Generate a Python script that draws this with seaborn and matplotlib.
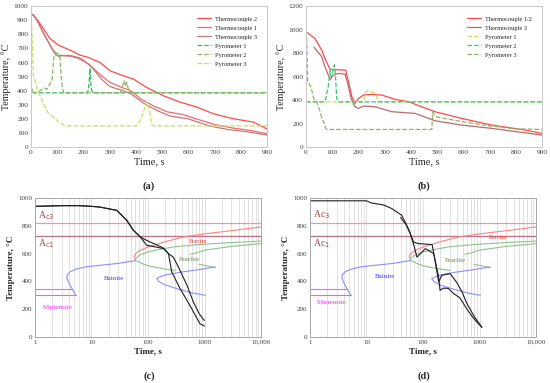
import numpy as np
import pandas as pd
import seaborn as sns
import matplotlib.pyplot as plt
from matplotlib.ticker import LogLocator, NullFormatter

# ---------------- panel (a): quench test 1 ----------------
a_tc2_t = [0, 10, 25, 47, 72, 104, 149, 187, 219, 263, 302, 352, 391, 441, 505, 569, 632, 696, 772, 849, 900]
a_tc2_T = [946, 935, 900, 842, 771, 723, 688, 652, 636, 600, 541, 506, 482, 423, 364, 319, 284, 236, 201, 177, 128]
a_tc1_t = [0, 10, 25, 50, 80, 100, 150, 180, 220, 260, 300, 350, 380, 420, 470, 520, 580, 630, 700, 770, 830, 900]
a_tc1_T = [946, 935, 895, 800, 700, 650, 645, 630, 590, 520, 460, 420, 400, 340, 290, 250, 230, 200, 160, 135, 120, 95]
a_tc3_t = [0, 10, 25, 50, 85, 100, 150, 190, 230, 270, 300, 350, 380, 430, 480, 530, 600, 680, 750, 820, 900]
a_tc3_T = [946, 935, 890, 800, 680, 650, 650, 630, 570, 480, 430, 400, 380, 310, 260, 220, 200, 150, 125, 110, 85]
a_p1_t = [0, 4, 8, 215, 220, 225, 229, 235, 900]
a_p1_T = [385, 410, 385, 385, 420, 558, 420, 385, 385]
a_p2_t = [0, 5, 10, 30, 50, 60, 70, 80, 85, 90, 95, 100, 105, 110, 115, 120, 125, 340, 350, 355, 360, 365, 370, 380, 900]
a_p2_T = [380, 410, 385, 395, 420, 410, 440, 470, 600, 680, 650, 670, 640, 660, 500, 420, 385, 385, 440, 470, 430, 460, 420, 385, 385]
a_p3_t = [0, 4, 9, 22, 41, 66, 85, 104, 120, 136, 403, 420, 441, 452, 460, 470, 900]
a_p3_T = [950, 800, 511, 428, 333, 239, 215, 180, 160, 150, 150, 200, 322, 260, 160, 150, 150]

# ---------------- panel (b): quench test 2 ----------------
b_tc12_t = [0, 34, 60, 72, 92, 151, 162, 175, 187, 200, 219, 251, 289, 340, 391, 441, 492, 594, 709, 836, 900]
b_tc12_T = [982, 925, 825, 754, 661, 655, 556, 428, 372, 414, 443, 448, 443, 406, 386, 343, 301, 244, 187, 145, 116]
b_tc3_t = [30, 60, 72, 85, 92, 104, 123, 149, 159, 172, 187, 200, 219, 263, 327, 416, 492, 594, 709, 900]
b_tc3_T = [851, 769, 684, 613, 576, 613, 627, 621, 542, 414, 343, 329, 349, 343, 301, 287, 224, 187, 159, 102]
b_p1_t = [0, 220, 228, 235, 260, 268, 275, 900]
b_p1_T = [385, 385, 470, 480, 460, 440, 385, 385]
b_p2_t = [0, 70, 75, 85, 92, 96, 100, 105, 108, 112, 117, 122, 900]
b_p2_T = [385, 385, 410, 520, 650, 600, 620, 680, 700, 620, 420, 385, 385]
b_p3_t = [0, 3, 6, 15, 20, 30, 40, 50, 60, 70, 75, 80, 480, 483, 490, 500, 600, 700, 800, 900]
b_p3_T = [990, 900, 550, 530, 500, 410, 390, 330, 250, 200, 160, 150, 150, 300, 270, 255, 215, 180, 155, 150]

# ---------------- CCT diagram (c), (d) ----------------
ac3_temp = 820
ac1_temp = 730
ms_t = [1, 4.5]
ms_T = [345, 345]
mf_t = [1, 5.3]
mf_T = [300, 300]
ferrite_t = [60, 57, 60, 70, 100, 200, 425, 1000, 3000, 10000]
ferrite_T = [555, 578, 598, 620, 648, 685, 720, 742, 765, 792]
pearlite_up_t = [60, 70, 100, 150, 300, 1000, 3000, 10000]
pearlite_up_T = [560, 588, 612, 628, 650, 668, 680, 690]
pearlite_fin_t = [550, 735, 1000, 3000, 10000]
pearlite_fin_T = [595, 607, 625, 652, 672]
pearlite_low_t = [60, 80, 100, 150, 215, 300]
pearlite_low_T = [552, 527, 513, 498, 487, 480]
pearlite_end_t = [800, 1550]
pearlite_end_T = [523, 500]
bainite1_t = [5.3, 4.8, 4.1, 3.7, 3.7, 4.2, 5.5, 8, 14, 30, 60]
bainite1_T = [297, 330, 380, 420, 445, 470, 490, 505, 516, 530, 550]
bainite2_t = [1550, 800, 400, 215, 160, 143, 155, 200, 323, 600, 1030]
bainite2_T = [504, 485, 468, 449, 432, 420, 400, 375, 348, 318, 300]

c_cool1_t = [1, 3, 6, 10, 14, 28, 42, 55, 73, 95, 148, 188, 230, 280, 345, 490, 635, 800, 960, 1000]
c_cool1_T = [940, 945, 945, 940, 935, 911, 840, 768, 720, 695, 660, 640, 600, 575, 504, 372, 252, 170, 125, 120]
c_cool2_t = [1, 3, 6, 10, 14, 28, 42, 55, 73, 95, 148, 188, 230, 263, 370, 550, 830, 960, 1000]
c_cool2_T = [940, 945, 945, 940, 935, 911, 840, 768, 720, 660, 645, 636, 600, 468, 348, 228, 96, 82, 80]

d_cool1_t = [1, 10, 12, 20, 28, 42, 55, 68, 83, 145, 165, 189, 215, 302, 400, 490, 600, 800, 1100]
d_cool1_T = [980, 980, 965, 950, 924, 876, 780, 683, 672, 665, 540, 396, 444, 456, 390, 324, 240, 150, 70]
d_cool2_t = [40, 50, 60, 70, 78, 90, 110, 155, 170, 189, 200, 230, 280, 350, 450, 600, 800, 1100]
d_cool2_T = [860, 810, 740, 650, 575, 600, 636, 600, 520, 432, 336, 352, 350, 312, 282, 200, 130, 70]

sns.set_style("white")
plt.rcParams['font.family'] = ['Liberation Serif', 'DejaVu Serif']


def line(ax, x, y, color, lw=0.9, ls='-', label=None):
    sns.lineplot(x=x, y=y, ax=ax, color=color, lw=lw, linestyle=ls,
                 estimator=None, sort=False, label=label, legend=False)


def frame(ax, col, size):
    for s in ax.spines.values():
        s.set_color(col)
        s.set_linewidth(0.7)
    ax.tick_params(length=0, labelsize=size, pad=2, colors='#404040')


fig = plt.figure(figsize=(5.5, 3.83), dpi=100)
ax_a = fig.add_axes([0.0564, 0.616, 0.429, 0.368])
ax_b = fig.add_axes([0.5564, 0.616, 0.429, 0.368])
ax_c = fig.add_axes([0.0636, 0.120, 0.411, 0.363])
ax_d = fig.add_axes([0.5636, 0.120, 0.411, 0.363])

# (a)
line(ax_a, a_tc2_t, a_tc2_T, '#ff4a4a', label='Thermocouple 2')
line(ax_a, a_tc1_t, a_tc1_T, '#f06a6a', label='Thermocouple 1')
line(ax_a, a_tc3_t, a_tc3_T, '#c07a7e', label='Thermocouple 3')
line(ax_a, a_p1_t, a_p1_T, '#2dbb55', ls='--', label='Pyrometer 1')
line(ax_a, a_p2_t, a_p2_T, '#8db46a', ls='--', label='Pyrometer 2')
line(ax_a, a_p3_t, a_p3_T, '#c4e066', ls='--', label='Pyrometer 3')
ax_a.set_ylim(0, 1000)
ax_a.set_yticks(range(0, 1001, 100))

# (b)
line(ax_b, b_tc12_t, b_tc12_T, '#ff4a4a', label='Thermocouple 1/2')
line(ax_b, b_tc3_t, b_tc3_T, '#b86a6e', label='Thermocouple 3')
line(ax_b, b_p1_t, b_p1_T, '#c4e066', ls='--', label='Pyrometer 1')
line(ax_b, b_p2_t, b_p2_T, '#2dcc70', ls='--', label='Pyrometer 2')
line(ax_b, b_p3_t, b_p3_T, '#8db46a', ls='--', label='Pyrometer 3')
ax_b.set_ylim(0, 1200)
ax_b.set_yticks(range(0, 1201, 200))

for ax in (ax_a, ax_b):
    ax.set_xlim(0, 900)
    ax.set_xticks(range(0, 901, 100))
    frame(ax, '#c8c8c8', 5.3)
    ax.set_xlabel('Time, s', fontsize=7.5, labelpad=2)
    ax.set_ylabel('Temperature, °C', fontsize=7.2, labelpad=2)
    ax.legend(loc='upper right', bbox_to_anchor=(0.98, 0.97), frameon=False,
              fontsize=4.6, handlelength=2.2, labelspacing=0.55, handletextpad=0.5)

# (c), (d)
for ax, c1t, c1T, c2t, c2T, sub in ((ax_c, c_cool1_t, c_cool1_T, c_cool2_t, c_cool2_T, 'c'),
                                     (ax_d, d_cool1_t, d_cool1_T, d_cool2_t, d_cool2_T, 'd')):
    ax.set_xscale('log')
    ax.set_xlim(1, 10000)
    ax.set_ylim(0, 1000)
    ax.set_yticks(range(0, 1001, 200))
    ax.set_xticks([1, 10, 100, 1000, 10000])
    ax.set_xticklabels(['1', '10', '100', '1000', '10,000'])
    ax.xaxis.set_minor_locator(LogLocator(base=10, subs=np.arange(2, 10)))
    ax.xaxis.set_minor_formatter(NullFormatter())
    ax.grid(True, which='both', axis='x', color='#dcdcdc', lw=0.6)
    ax.set_axisbelow(True)
    frame(ax, '#a8a8a8', 5.0)
    ax.axhline(ac3_temp, color='#dba0aa', lw=0.9)
    ax.axhline(ac1_temp, color='#b87888', lw=1.0)
    line(ax, ms_t, ms_T, '#ff55ff', lw=0.8)
    line(ax, mf_t, mf_T, '#ff55ff', lw=0.8)
    line(ax, ferrite_t, ferrite_T, '#ff8080', lw=0.8)
    line(ax, pearlite_up_t, pearlite_up_T, '#8cc48c', lw=0.8)
    line(ax, pearlite_fin_t, pearlite_fin_T, '#8cc48c', lw=0.8)
    line(ax, pearlite_low_t, pearlite_low_T, '#8cc48c', lw=0.8)
    line(ax, pearlite_end_t, pearlite_end_T, '#8cc48c', lw=0.8)
    line(ax, bainite1_t, bainite1_T, '#8c8cff', lw=0.8)
    line(ax, bainite2_t, bainite2_T, '#8c8cff', lw=0.8)
    line(ax, c1t, c1T, '#202020', lw=0.8)
    line(ax, c2t, c2T, '#202020', lw=0.8)
    ax.set_xlabel('Time, s', fontsize=6.5, fontweight='bold', labelpad=2)
    ax.set_ylabel('Temperature, °C', fontsize=6.5, fontweight='bold', labelpad=2)
    if sub == 'c':
        ax.text(1.12, 870, r'A$_{\rm c3}$', color='#a04848', fontsize=7, va='center')
        ax.text(1.12, 670, r'A$_{\rm c1}$', color='#a04848', fontsize=7, va='center')
        ax.text(780, 690, 'Ferrite', color='#ff3c3c', fontsize=5, ha='center', va='center')
        ax.text(530, 561, 'Pearlite', color='#6b8a4a', fontsize=5, ha='center', va='center')
        ax.text(25, 422, 'Bainite', color='#3c3cff', fontsize=5, ha='center', va='center')
        ax.text(2.5, 212, 'Martensite', color='#ff22ff', fontsize=5, ha='center', va='center')
    else:
        ax.text(1.12, 878, r'Ac$_3$', color='#a04848', fontsize=7, va='center')
        ax.text(1.12, 674, r'Ac$_1$', color='#a04848', fontsize=7, va='center')
        ax.text(2130, 714, 'Ferrite', color='#ff3c3c', fontsize=5, ha='center', va='center')
        ax.text(380, 554, 'Pearlite', color='#6b8a4a', fontsize=5, ha='center', va='center')
        ax.text(21, 434, 'Bainite', color='#3c3cff', fontsize=5, ha='center', va='center')
        ax.text(2.4, 250, 'Martensite', color='#ff22ff', fontsize=5, ha='center', va='center')

for lbl, x, y in (('(a)', 149, 186), ('(b)', 424, 186), ('(c)', 149, 376), ('(d)', 424, 376)):
    fig.text(x / 550, 1 - y / 383, lbl, fontsize=7.5, fontweight='bold', ha='center', va='center')

fig.savefig('out.png', dpi=100)
